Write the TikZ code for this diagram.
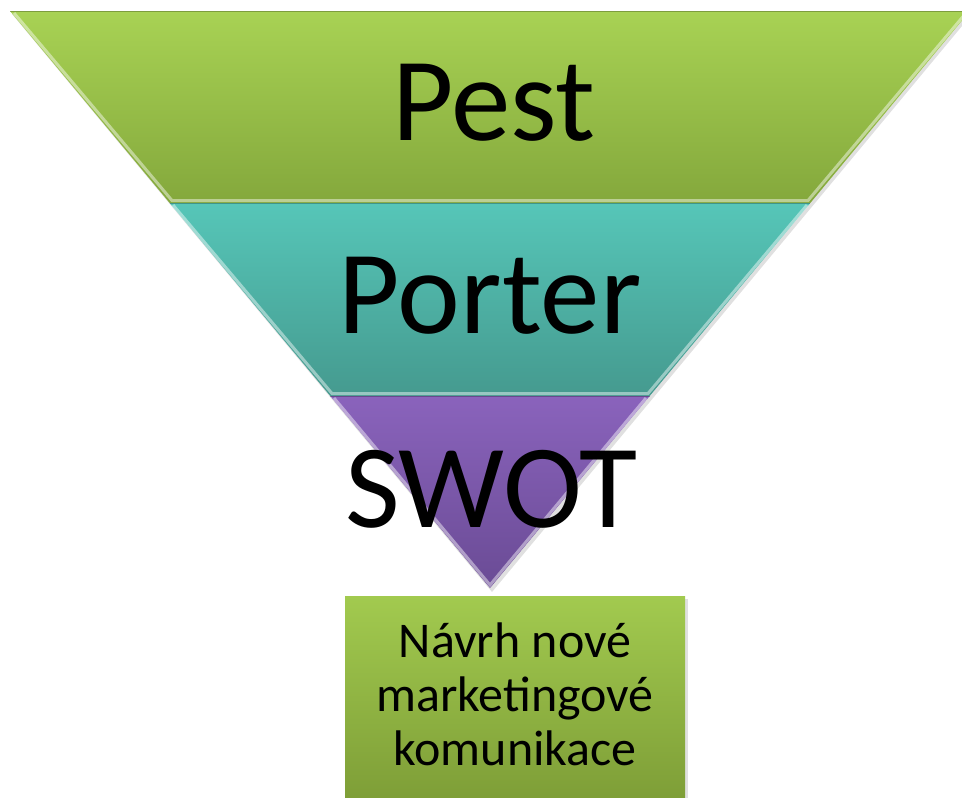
\documentclass[tikz,border=0pt]{standalone}
\usepackage{fontspec}
\setmainfont{Carlito}
\definecolor{gTop}{HTML}{A8D254}
\definecolor{gBot}{HTML}{84A83C}
\definecolor{tTop}{HTML}{56C6B8}
\definecolor{tBot}{HTML}{459A8F}
\definecolor{pTop}{HTML}{8A63BC}
\definecolor{pBot}{HTML}{6A4B95}
\definecolor{bTop}{HTML}{A2CA4F}
\definecolor{bBot}{HTML}{7E9E37}
\tikzset{
  bigtxt/.style={font=\fontsize{119}{122}\selectfont, text=black, inner sep=0pt, anchor=base},
  boxtxt/.style={font=\fontsize{50}{54}\selectfont, align=center, text=black, inner sep=0pt},
  bevel/.style={draw=white, draw opacity=0.45, line width=3pt, line join=miter},
  edge/.style={draw=black, draw opacity=0.25, line width=0.8pt}
}
\begin{document}
\begin{tikzpicture}[x=1pt,y=-1pt]
\useasboundingbox (0,0) rectangle (962,798);
\clip (0,0) rectangle (962,798);
% shadow
\fill[black, opacity=0.12] (12,14) -- (972,14) -- (492,592) -- cycle;
% bands
\shade[top color=gTop, bottom color=gBot] (10,11) -- (970,11) -- (810.3,203) -- (169.7,203) -- cycle;
\shade[top color=tTop, bottom color=tBot] (169.7,203) -- (810.3,203) -- (649.7,396) -- (330.3,396) -- cycle;
\shade[top color=pTop, bottom color=pBot] (330.3,396) -- (649.7,396) -- (490,588) -- cycle;
% bevels
\draw[bevel] (14,13) -- (172,200.5) -- (808,200.5) -- (966,13);
\draw[bevel] (173,205) -- (332,393.5) -- (648,393.5) -- (807,205);
\draw[bevel] (334,398) -- (490,585) -- (646,398);
\draw[edge] (10,11) -- (970,11);
\draw[edge] (169.7,203) -- (810.3,203);
\draw[edge] (330.3,396) -- (649.7,396);
% texts
\node[bigtxt] (pest) at (494,140) {Pest};
\node[bigtxt] (porter) at (490,333) {Porter};
\node[bigtxt] (swot) at (491,527) {SWOT};
% bottom box
\fill[black, opacity=0.12] (347,599) rectangle (688,800);
\shade[top color=bTop, bottom color=bBot] (345,596) rectangle (685,800);
\node[boxtxt] (navrh) at (515,694) {Návrh nové\\marketingové\\komunikace};
\end{tikzpicture}
\end{document}
